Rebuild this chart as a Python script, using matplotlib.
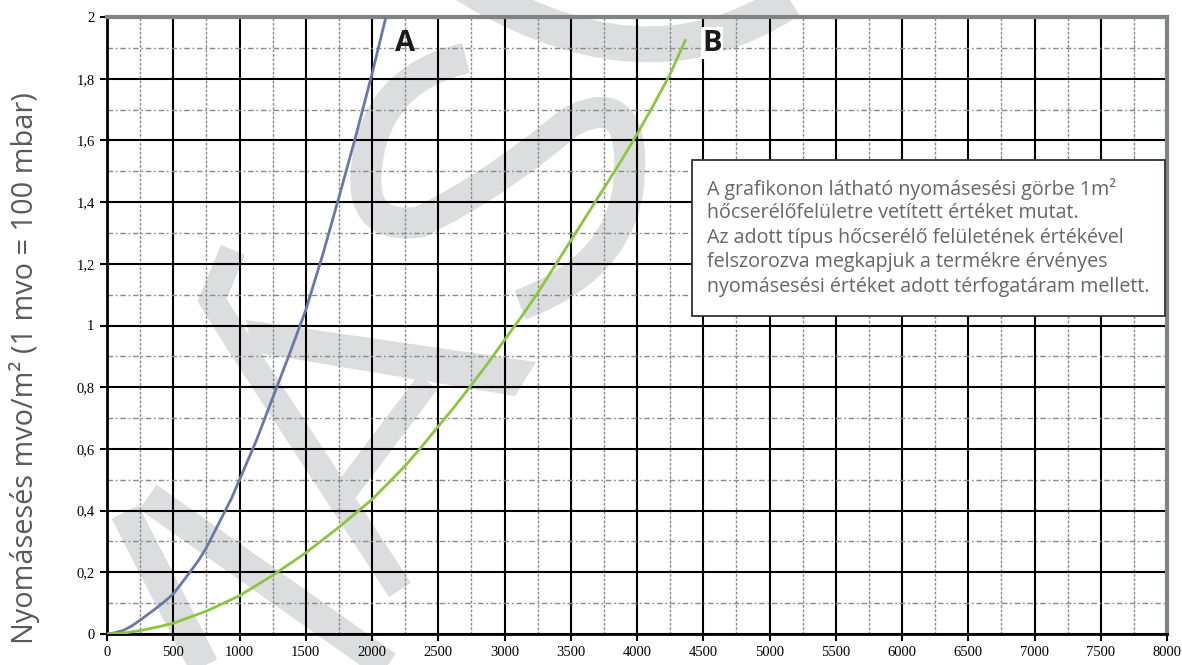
import matplotlib
matplotlib.use("Agg")
import matplotlib.pyplot as plt
from matplotlib.transforms import Affine2D
from matplotlib.path import Path
from matplotlib.patches import PathPatch, Polygon, Rectangle
from matplotlib.lines import Line2D

# ---------------- data ----------------
flow_A = [0, 60, 125, 190, 250, 310, 375, 440, 500, 560, 625, 690, 750, 810, 875,
          940, 1000, 1125, 1250, 1375, 1500, 1625, 1750, 1875, 2000, 2105]
drop_A = [0, 0.004, 0.012, 0.027, 0.045, 0.064, 0.085, 0.107, 0.13, 0.163, 0.20,
          0.238, 0.28, 0.33, 0.385, 0.44, 0.50, 0.625, 0.765, 0.905, 1.05, 1.225,
          1.415, 1.61, 1.815, 2.0]

flow_B = [0, 125, 250, 375, 500, 750, 1000, 1250, 1500, 1750, 2000, 2125, 2250,
          2375, 2500, 2625, 2750, 2875, 3000, 3125, 3250, 3375, 3500, 3625, 3750,
          3875, 4000, 4125, 4250, 4365]
drop_B = [0, 0.003, 0.011, 0.022, 0.035, 0.074, 0.124, 0.19, 0.263, 0.346, 0.436,
          0.49, 0.545, 0.607, 0.673, 0.738, 0.807, 0.878, 0.953, 1.027, 1.105,
          1.19, 1.275, 1.36, 1.445, 1.53, 1.62, 1.715, 1.815, 1.925]

x_ticks = list(range(0, 8001, 500))
y_ticks = [0, 0.2, 0.4, 0.6, 0.8, 1.0, 1.2, 1.4, 1.6, 1.8, 2.0]
y_tick_labels = ["0", "0,2", "0,4", "0,6", "0,8", "1", "1,2", "1,4", "1,6", "1,8", "2"]
x_minor = list(range(250, 8000, 500))
y_minor = [0.1, 0.3, 0.5, 0.7, 0.9, 1.1, 1.3, 1.5, 1.7, 1.9]

curve_labels = ["A", "B"]
label_pos_A = (2250, 1.915)
label_pos_B = (4565, 1.915)

y_title = "Nyomásesés mvo/m² (1 mvo = 100 mbar)"
note_lines = [
    "A grafikonon látható nyomásesési görbe 1m²",
    "hőcserélőfelületre vetített értéket mutat.",
    "Az adott típus hőcserélő felületének értékével",
    "felszorozva megkapjuk a termékre érvényes",
    "nyomásesési értéket adott térfogatáram mellett.",
]

# ---------------- figure ----------------
W, H = 1182, 665
fig = plt.figure(figsize=(W / 100, H / 100), dpi=100)
fig.patch.set_facecolor("white")
ax = fig.add_axes([107 / W, 1 - 634 / H, (1167 - 107) / W, (634 - 17) / H])
ax.patch.set_facecolor("none")

# pixel transform (origin top-left) for decoration
T = Affine2D().scale(1 / W, -1 / H).translate(0, 1) + fig.transFigure
wm = "#dcdddf"

def pw(px):
    return px * 72 / 100

# watermark decoration (behind the axes content)
def stroke(pts, width):
    xs, ys = zip(*pts)
    ln = Line2D(xs, ys, transform=T, color=wm, lw=pw(width),
                solid_capstyle="butt", solid_joinstyle="miter", zorder=-1)
    fig.add_artist(ln)

stroke([(125, 512), (205, 668)], 30)
stroke([(148, 497), (390, 668)], 30)
stroke([(233, 250), (212, 300), (240, 345), (400, 590)], 26)
stroke([(345, 492), (428, 382)], 24)
fig.add_artist(Polygon([(246, 320), (536, 362), (515, 396), (252, 352)],
                       closed=True, transform=T, facecolor=wm, edgecolor="none", zorder=-1))
s_path = Path([(466, 58), (372, 80), (366, 174), (362, 230), (420, 222),
               (495, 185), (570, 122), (640, 85), (628, 190), (615, 270), (520, 305)],
              [Path.MOVETO, Path.CURVE3, Path.CURVE3, Path.CURVE3, Path.CURVE3,
               Path.CURVE3, Path.CURVE3, Path.CURVE3, Path.CURVE3, Path.CURVE3, Path.CURVE3])
fig.add_artist(PathPatch(s_path, transform=T, facecolor="none", edgecolor=wm,
                         lw=pw(31), capstyle="butt", zorder=-1))
arc_path = Path([(450, -25), (640, 100), (790, 0)],
                [Path.MOVETO, Path.CURVE3, Path.CURVE3])
fig.add_artist(PathPatch(arc_path, transform=T, facecolor="none", edgecolor=wm,
                         lw=pw(36), capstyle="butt", zorder=-1))

# ---------------- axes ----------------
ax.set_xlim(0, 8000)
ax.set_ylim(0, 2)
ax.set_xticks(x_ticks)
ax.set_xticklabels([str(v) for v in x_ticks])
ax.set_yticks(y_ticks)
ax.set_yticklabels(y_tick_labels)
ax.set_xticks(x_minor, minor=True)
ax.set_yticks(y_minor, minor=True)

ax.grid(which="major", color="black", lw=1.5, zorder=1)
ax.xaxis.grid(which="minor", color="#8a8a8a", lw=1.0, ls=(0, (2.0, 1.2)))
ax.yaxis.grid(which="minor", color="#8a8a8a", lw=1.0, ls=(0, (4, 2, 1.2, 2)))
ax.set_axisbelow(True)

for s in ("top", "right"):
    ax.spines[s].set_color("#7f8584")
    ax.spines[s].set_linewidth(3)
for s in ("left", "bottom"):
    ax.spines[s].set_color("black")
    ax.spines[s].set_linewidth(2)

ax.tick_params(which="major", direction="out", length=5, width=1.5, color="black",
               labelsize=10.5, pad=4)
ax.tick_params(which="minor", length=0)
for lab in ax.get_xticklabels() + ax.get_yticklabels():
    lab.set_fontfamily("Liberation Serif")

ax.plot(flow_A, drop_A, color="#6c77a9", lw=2.0, zorder=3, solid_capstyle="round")
ax.plot(flow_B, drop_B, color="#8cc63f", lw=2.0, zorder=3, solid_capstyle="round")

ax.text(*label_pos_A, curve_labels[0], fontsize=21, fontweight="bold",
        family="Open Sans", color="#1a1a1a", ha="center", va="center", zorder=4)
ax.text(*label_pos_B, curve_labels[1], fontsize=21, fontweight="bold",
        family="Open Sans", color="#1a1a1a", ha="center", va="center", zorder=4,
        bbox=dict(facecolor="white", edgecolor="none", pad=1))

# y label
fig.text(25 / W, 1 - 368 / H, y_title, rotation=90, ha="center", va="center",
         fontsize=20.8, family="Open Sans", color="#5a5a5a")

# note box
fig.add_artist(Rectangle((692, 160), 473, 156, transform=T, facecolor="white",
                         edgecolor="#333333", lw=1.3, zorder=5))
for i, line in enumerate(note_lines):
    fig.text(707 / W, 1 - (189 + i * 24.5) / H, line, ha="left", va="center",
             fontsize=14.1, family="Open Sans", color="#666666", zorder=6)

fig.savefig("out.png", dpi=100, facecolor="white")
